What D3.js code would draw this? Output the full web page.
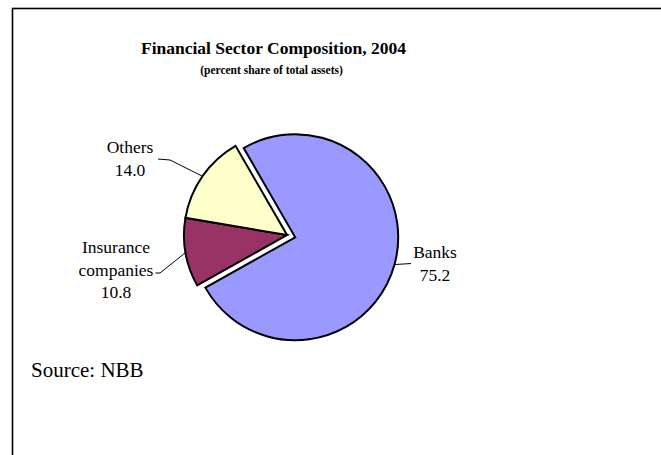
<!DOCTYPE html>
<html>
<head>
<meta charset="utf-8">
<script src="https://cdn.jsdelivr.net/npm/d3@7"></script>
<style>
  html, body { margin: 0; padding: 0; background: #fff; }
  svg { display: block; }
  text, tspan { font-family: "Liberation Serif", "Times New Roman", "DejaVu Serif", serif; fill: #000; }
</style>
</head>
<body>
<svg id="chart" width="661" height="455"></svg>
<script>
// Financial sector composition, 2004 (percent share of total assets)
const sectors = ["Banks", "Insurance companies", "Others"];
const shares = [75.2, 10.8, 14.0];
const sectorColors = ["#9999FF", "#993366", "#FFFFCC"];

const W = 661, H = 455;
const FONT = '"Liberation Serif", "Times New Roman", serif';
const svg = d3.select("#chart");

// Frame around the chart area (runs past the right and bottom edges)
svg.append("rect")
  .attr("x", 12.5).attr("y", 8.5)
  .attr("width", W + 20).attr("height", H + 20)
  .attr("fill", "none").attr("stroke", "#000").attr("stroke-width", 1.6);

// Titles
svg.append("text")
  .attr("x", 273.5).attr("y", 54)
  .attr("text-anchor", "middle")
  .attr("font-family", FONT)
  .style("font-weight", "bold").style("font-size", "17.5px")
  .text("Financial Sector Composition, 2004");
svg.append("text")
  .attr("x", 271.5).attr("y", 74)
  .attr("text-anchor", "middle")
  .attr("font-family", FONT)
  .style("font-weight", "bold").style("font-size", "11.5px")
  .text("(percent share of total assets)");

// Pie geometry
const cx = 287, cy = 235, R = 103, explode = 8.5;
const data = sectors.map((s, i) => ({ name: s, value: shares[i], color: sectorColors[i] }));

const pie = d3.pie()
  .sort(null)
  .value(d => d.value)
  .startAngle(-Math.PI / 6)
  .endAngle(-Math.PI / 6 + 2 * Math.PI);
const arcs = pie(data);
const arc = d3.arc().innerRadius(0).outerRadius(R);

// Banks slice is pulled out from the centre
const offsetOf = (a, i) => {
  if (i !== 0) return [0, 0];
  const m = (a.startAngle + a.endAngle) / 2;
  return [explode * Math.sin(m), -explode * Math.cos(m)];
};

const g = svg.append("g").attr("transform", `translate(${cx},${cy})`);
g.selectAll("path.slice")
  .data(arcs)
  .join("path")
  .attr("class", "slice")
  .attr("transform", (a, i) => `translate(${offsetOf(a, i)})`)
  .attr("d", arc)
  .attr("fill", a => a.data.color)
  .attr("stroke", "#000")
  .attr("stroke-width", 2)
  .attr("stroke-linejoin", "miter");

// Point on the rim at the middle of a slice
const rimPoint = (a, i) => {
  const m = (a.startAngle + a.endAngle) / 2;
  const o = offsetOf(a, i);
  return [cx + o[0] + R * Math.sin(m), cy + o[1] - R * Math.cos(m)];
};

// Label layout per slice: text centre x, first baseline, and leader elbow points
const labelLayout = [
  { x: 435, y: 258, lines: ["Banks"], elbow: p => [[411, p[1] - 1]] },
  { x: 116, y: 253, lines: ["Insurance", "companies"], elbow: () => [[160, 273], [155.5, 273]] },
  { x: 130, y: 153, lines: ["Others"], elbow: () => [[170, 160], [158, 159]] }
];
const lineH = 22.5;

arcs.forEach((a, i) => {
  const L = labelLayout[i];
  const p = rimPoint(a, i);
  const pts = [p].concat(L.elbow(p));
  svg.append("path")
    .attr("d", d3.line()(pts))
    .attr("fill", "none")
    .attr("stroke", "#000")
    .attr("stroke-width", 1);

  const t = svg.append("text")
    .attr("text-anchor", "middle")
    .attr("font-family", FONT)
    .style("font-size", "17.5px");
  const lines = L.lines.concat([d3.format(".1f")(a.data.value)]);
  lines.forEach((s, k) => {
    t.append("tspan").attr("x", L.x).attr("y", L.y + k * lineH).text(s);
  });
});

// Source note
svg.append("text")
  .attr("x", 31).attr("y", 377)
  .attr("font-family", FONT)
  .style("font-size", "21px")
  .text("Source: NBB");
</script>
</body>
</html>
